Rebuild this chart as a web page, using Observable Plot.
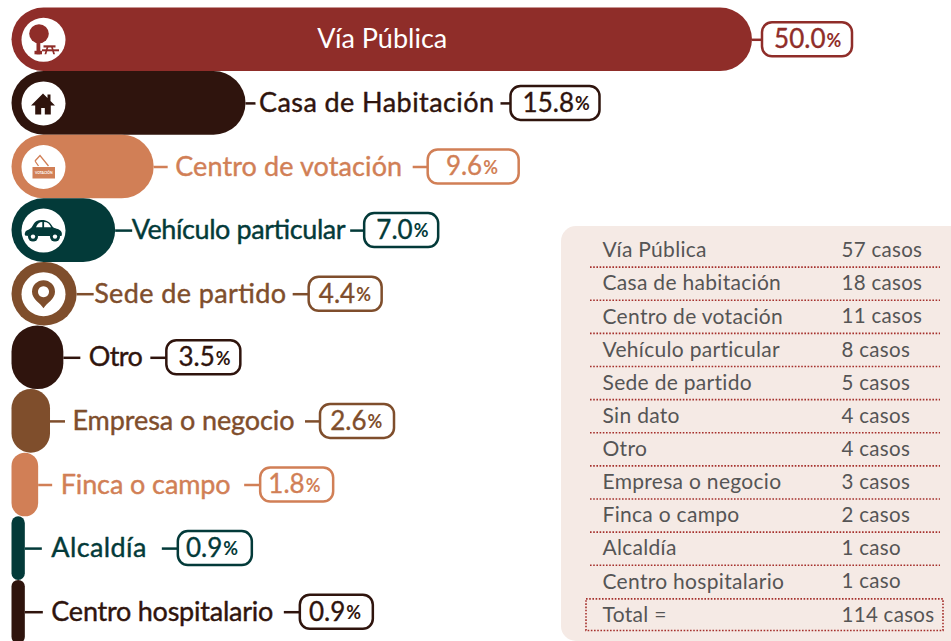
<!DOCTYPE html>
<html lang="es">
<head>
<meta charset="utf-8">
<title>Lugares</title>
<script src="https://cdn.jsdelivr.net/npm/d3@7"></script>
<script src="https://cdn.jsdelivr.net/npm/@observablehq/plot@0.6"></script>
<style>
  html, body { margin: 0; padding: 0; background: #fff; overflow: hidden; }
  #chart { position: relative; width: 951px; height: 641px; }
  #chart svg { display: block; }
  #table { position: absolute; left: 561px; top: 226px; }
  #table text { letter-spacing: 0.3px; }
</style>
</head>
<body>
<div id="chart"></div>
<script>
// ---- data ----
const categories = ["Vía Pública", "Casa de Habitación", "Centro de votación", "Vehículo particular", "Sede de partido", "Otro", "Empresa o negocio", "Finca o campo", "Alcaldía", "Centro hospitalario"];
const percents = [50.0, 15.8, 9.6, 7.0, 4.4, 3.5, 2.6, 1.8, 0.9, 0.9];
const barColors = ["#8f2d29", "#2f140d", "#d17f56", "#033a39", "#7f4e2c", "#2f140d", "#7f4e2c", "#d17f56", "#033a39", "#2f140d"];

const tableNames = ["Vía Pública", "Casa de habitación", "Centro de votación", "Vehículo particular", "Sede de partido", "Sin dato", "Otro", "Empresa o negocio", "Finca o campo", "Alcaldía", "Centro hospitalario"];
const tableCases = [57, 18, 11, 8, 5, 4, 4, 3, 2, 1, 1];
const totalName = "Total =";
const totalCases = 114;

// ---- label layout: pixel offsets measured from each bar's end ----
const leadEnd    = [10, 10, 14, 17, 17, 17, 15, 14, 17, 18];
const textAt     = [null, 13, 21, 16, 17, 25, 22, 22, 26, 26];
const textWidth  = [130, 235, 227, 214, 192, 54, 222, 170, 95, 222];
const lead2At    = [null, 255, 259, 235, 216, 87, 255, 206, 137, 259];
const pillLeft   = [10, 265, 274, 249, 232, 103, 270, 222, 153, 275];
const pillRight  = [100, 354, 365, 323, 305, 177, 344, 295, 227, 348];
const numberPad  = [27, 26, 37, 26, 27, 26, 28, 29, 30, 28];

const FONT = "Lato, 'Noto Sans', sans-serif";
const X0 = 11.5, X1 = 752, XMAX = 50;
const k = (X1 - X0) / XMAX;
const off = (v, p) => v + p / k;
const rows = categories.map((label, i) => ({label, value: percents[i], color: barColors[i], i}));

const svgUri = s => "data:image/svg+xml," + encodeURIComponent(`<svg xmlns="http://www.w3.org/2000/svg" width="44" height="44" viewBox="0 0 44 44">${s}</svg>`);
const icons = [
  svgUri(`<g fill="#8f2d29"><ellipse cx="17.500" cy="16" rx="9.800" ry="9.500"/><rect x="15" y="22" width="3.800" height="14.500"/><rect x="13" y="33" width="7.500" height="3.500"/><rect x="22" y="27.500" width="12" height="2.200"/><rect x="20.500" y="31.500" width="17" height="2"/><path d="M25.200 29l-2.200 7.500h1.800l2.200-7.500zM29.500 29h1.700l2.300 7.500h-1.800z"/></g>`),
  svgUri(`<g fill="#2f140d"><path d="M21.500 12L9.500 24h4.200V33h6v-6.500h3.600V33h6v-9H33.500l-4.500-4.500V13h-3v3.500z"/></g>`),
  svgUri(`<g><path d="M13.500 16l5-5.500 8.500 10.500M13.500 16l3.500 5" fill="none" stroke="#d17f56" stroke-width="1.300"/><rect x="11" y="22" width="22.500" height="11.500" fill="#d17f56"/><text x="22.200" y="29.300" text-anchor="middle" font-family="Lato,sans-serif" font-size="3.400" font-weight="700" fill="#fff">VOTACIÓN</text></g>`),
  svgUri(`<g fill="#033a39"><path fill-rule="evenodd" d="M3.500 27c-.7-3 .5-5.200 4-6.200 2-.7 3.200-2.600 4.800-5.600 1.400-2.400 3.600-3.800 8-3.800 5.400 0 8 2 11 7 1.500 1.600 6 1.600 8 4 1.400 1.800 1.300 3.700.6 5.100H38c-.4-5-8.400-5-9 0H16c-.6-5-8.600-5-9 0zM14.500 18.700h6.300v-5.200c-3 0-4.600 1.600-6.300 5.200zM22.600 18.700h7c-1.500-3.600-3.600-5.100-7-5.200z"/><circle cx="11.500" cy="28" r="5"/><circle cx="11.500" cy="28" r="2.200" fill="#fff"/><circle cx="33.500" cy="28" r="5"/><circle cx="33.500" cy="28" r="2.200" fill="#fff"/></g>`),
  svgUri(`<path fill="#7f4e2c" fill-rule="evenodd" d="M22 36C19 31 10.500 27 10.500 19.500a11.500 11.500 0 0 1 23 0C33.500 27 25 31 22 36zM22 14a5.500 5.500 0 1 0 .01 0z"/>`),
  null, null, null, null, null
];

const y = {domain: categories, range: [7.5, 643.5], padding: 0, round: false, axis: null};
const x = {domain: [0, XMAX], range: [X0, X1], axis: null};

const marks = [];
rows.forEach(r => {
  const w = r.value * k;
  const rad = Math.min(32, w / 2);
  marks.push(Plot.ruleY([r], {y: "label", x1: "value", x2: d => off(d.value, leadEnd[d.i]), stroke: "color", strokeWidth: 2.5}));
  if (lead2At[r.i] != null)
    marks.push(Plot.ruleY([r], {y: "label", x1: d => off(d.value, lead2At[d.i]), x2: d => off(d.value, pillLeft[d.i]), stroke: "color", strokeWidth: 2.5}));
  marks.push(Plot.barX([r], {y: "label", x1: 0, x2: "value", fill: "color", rx: rad, ry: rad}));
  marks.push(Plot.barX([r], {y: "label", x1: d => off(d.value, pillLeft[d.i]), x2: d => off(d.value, pillRight[d.i]), insetTop: 14.8, insetBottom: 14.8, rx: 10, ry: 10, fill: "#fff", stroke: "color", strokeWidth: 2.5}));
  marks.push(Plot.text([r], {y: "label", x: d => off(d.value, pillRight[d.i] - numberPad[d.i]), text: d => d.value.toFixed(1), textAnchor: "end", fill: "color", stroke: "color", strokeWidth: 0.35, fontFamily: FONT, fontSize: 26, fontWeight: 400}));
  marks.push(Plot.text([r], {y: "label", x: d => off(d.value, pillRight[d.i] - numberPad[d.i] + 1), dy: 1, text: () => "%", textAnchor: "start", fill: "color", fontFamily: FONT, fontSize: 18, fontWeight: 700}));
  const catOpts = {y: "label", text: "label", fontFamily: FONT, fontSize: 27, className: "cat"};
  if (textAt[r.i] != null)
    marks.push(Plot.text([r], {...catOpts, x: d => off(d.value, textAt[d.i]), textAnchor: "start", fill: "color", stroke: "color", strokeWidth: 0.4}));
  else
    marks.push(Plot.text([r], {...catOpts, x: d => d.value / 2, fill: "#fff"}));
  if (icons[r.i]) {
    marks.push(Plot.dot([r], {y: "label", frameAnchor: "left", dx: 43, r: 22, fill: "#fff"}));
    marks.push(Plot.image([r], {y: "label", frameAnchor: "left", dx: 43, src: () => icons[r.i], width: 44, height: 44}));
  }
});

const main = Plot.plot({
  width: 951, height: 641,
  marginLeft: 0, marginRight: 0, marginTop: 0, marginBottom: 0,
  x, y,
  style: {background: "transparent", fontFamily: FONT},
  marks
});
main.querySelectorAll(".cat text").forEach((t, i) => t.setAttribute("textLength", textWidth[i]));

// ---- table panel ----
const tableRows = tableNames.map((name, i) => ({name, cases: `${tableCases[i]} caso${tableCases[i] === 1 ? "" : "s"}`, i: i + 0.5}));
const total = {name: totalName, cases: `${totalCases} casos`, i: tableRows.length + 0.5};
const TC = "#555";
const DOT = "#a5302c";
const table = Plot.plot({
  width: 390, height: 415,
  marginLeft: 0, marginRight: 0, marginTop: 0, marginBottom: 0,
  x: {domain: [0, 1], range: [29, 379], axis: null},
  y: {domain: [0, 12], range: [7.500, 405], axis: null},
  style: {background: "#f5eae5", borderRadius: "15px 0 0 15px", fontFamily: FONT},
  marks: [
    Plot.ruleY(d3.range(1, 11), {y: d => d, x1: 0, x2: 1, stroke: DOT, strokeWidth: 1.6, strokeDasharray: "1.6 1.6"}),
    Plot.rect([total], {x1: 0, x2: 1, y1: 11, y2: 12, insetLeft: -4, insetRight: -3, insetTop: 1, insetBottom: 0.5, fill: "none", stroke: DOT, strokeWidth: 1.6, strokeDasharray: "1.6 1.6"}),
    Plot.text([...tableRows, total], {x: () => 0, y: "i", dx: 12, text: "name", textAnchor: "start", fill: TC, fontFamily: FONT, fontSize: 21}),
    Plot.text([...tableRows, total], {x: () => 0, y: "i", dx: 251, text: "cases", textAnchor: "start", fill: TC, fontFamily: FONT, fontSize: 20.5})
  ]
});
table.id = "table";
document.getElementById("chart").append(main, table);
</script>
</body>
</html>
